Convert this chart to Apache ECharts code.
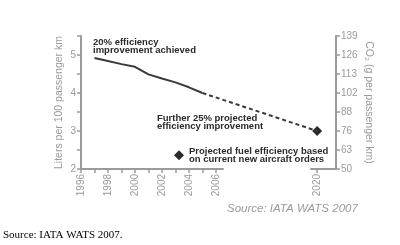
<!DOCTYPE html>
<html lang="en">
<head>
  <meta charset="UTF-8">
  <title>Fuel efficiency</title>
  <script src="https://cdn.jsdelivr.net/npm/echarts@6.0.0/dist/echarts.min.js"></script>
  <style>
    body { margin: 0; background: #fff; }
  </style>
</head>
<body>
  <div id="app" style="width: 400px; height: 245px;"></div>
  <script>
    // achieved fuel use, litres per 100 passenger km
    var achievedYears = [1997, 1998, 1999, 2000, 2001, 2002, 2003, 2004, 2005]
    var achievedVals = [4.92, 4.84, 4.76, 4.69, 4.49, 4.38, 4.28, 4.15, 4.0]
    // projected part (dashed)
    var projYears = [2005, 2020]
    var projVals = [4.0, 3.0]
    var orderYear = [2020]
    var orderVal = [3.0]
    var yearLabels = [1996, 1998, 2000, 2002, 2004, 2006, 2020]
    var yearTicks = [1996, 1997, 1998, 1999, 2000, 2001, 2002, 2003, 2004, 2005, 2006, 2020]
    var litreLabels = [2, 3, 4, 5]
    var co2Labels = [50, 63, 76, 88, 102, 113, 126, 139]

    var gray = '#9a9a9a'
    var dark = '#2a2a2a'
    var font = 'Liberation Sans'

    function pairs(xs, ys) {
      return xs.map(function (x, i) { return [x, ys[i]] })
    }

    var mCharts = echarts.init(document.querySelector('#app'))
    var option = {
      animation: false,
      textStyle: { fontFamily: font },
      grid: { left: 81, right: 64, top: 36, bottom: 76 },
      legend: {
        left: 169, top: 141,
        itemWidth: 10, itemHeight: 10, itemGap: 0,
        textStyle: { color: dark, fontWeight: 'bold', fontSize: 9.5, lineHeight: 8.5, fontFamily: font },
        data: [{ name: 'Projected fuel efficiency based\non current new aircraft orders', icon: 'diamond' }]
      },
      xAxis: {
        type: 'value',
        min: 1996, max: 2021.4, interval: 1,
        breaks: [{ start: 2006.5, end: 2019.5, gap: 6.5 }],
        breakArea: { show: false },
        axisLine: { lineStyle: { color: gray, width: 2 } },
        axisTick: { length: 4, customValues: yearTicks, lineStyle: { color: gray, width: 1.5 } },
        splitLine: { show: false },
        axisLabel: {
          rotate: 90, color: gray, fontSize: 10, margin: 5,
          customValues: yearLabels,
          hideOverlap: false,
          formatter: function (v) { return String(v) }
        }
      },
      yAxis: [{
        type: 'value',
        min: 2, max: 5.5, interval: 0.5,
        name: 'Liters per 100 passenger km',
        nameLocation: 'middle', nameGap: 16, nameMoveOverlap: false,
        nameTextStyle: { color: gray, fontSize: 10.5 },
        axisLine: { show: true, lineStyle: { color: gray, width: 2 } },
        axisTick: { show: true, length: 4, lineStyle: { color: gray, width: 1.5 } },
        splitLine: { show: false },
        axisLabel: {
          color: gray, fontSize: 10, margin: 5,
          formatter: function (v) {
            return litreLabels.indexOf(v) >= 0 ? String(v) : ''
          }
        }
      }, {
        type: 'value',
        position: 'right',
        min: 2, max: 5.5, interval: 0.5,
        name: 'CO₂ (g per passenger km)',
        nameLocation: 'middle', nameGap: 27, nameRotate: -90, nameMoveOverlap: false,
        nameTextStyle: { color: gray, fontSize: 10.5 },
        axisLine: { show: true, lineStyle: { color: gray, width: 2 } },
        axisTick: { show: true, length: 4, lineStyle: { color: gray, width: 1.5 } },
        splitLine: { show: false },
        axisLabel: {
          color: gray, fontSize: 10, margin: 5,
          formatter: function (v) {
            return String(co2Labels[Math.round((v - 2) / 0.5)])
          }
        }
      }],
      graphic: [
        {
          type: 'text', left: 93, top: 37,
          style: { text: '20% efficiency\nimprovement achieved', fill: dark, font: 'bold 9.5px ' + font, lineHeight: 8.5 }
        },
        {
          type: 'text', left: 157, top: 113,
          style: { text: 'Further 25% projected\nefficiency improvement', fill: dark, font: 'bold 9.5px ' + font, lineHeight: 8.5 }
        },
        {
          type: 'text', left: 227, top: 203,
          style: { text: 'Source: IATA WATS 2007', fill: gray, font: 'italic 11.5px ' + font }
        },
        {
          type: 'text', left: 3, top: 230,
          style: { text: 'Source: IATA WATS 2007.', fill: '#000', font: '11px Liberation Serif' }
        }
      ],
      series: [
        {
          name: 'achieved',
          type: 'line',
          data: pairs(achievedYears, achievedVals),
          symbol: 'none',
          lineStyle: { color: '#3a3a3a', width: 2 }
        },
        {
          name: 'projected',
          type: 'line',
          data: pairs(projYears, projVals),
          symbol: 'none',
          lineStyle: { color: '#3a3a3a', width: 2, type: [4, 3] }
        },
        {
          name: 'Projected fuel efficiency based\non current new aircraft orders',
          type: 'scatter',
          data: pairs(orderYear, orderVal),
          symbol: 'diamond',
          symbolSize: 10,
          itemStyle: { color: dark, opacity: 1 }
        }
      ]
    }
    mCharts.setOption(option)
  </script>
</body>
</html>
